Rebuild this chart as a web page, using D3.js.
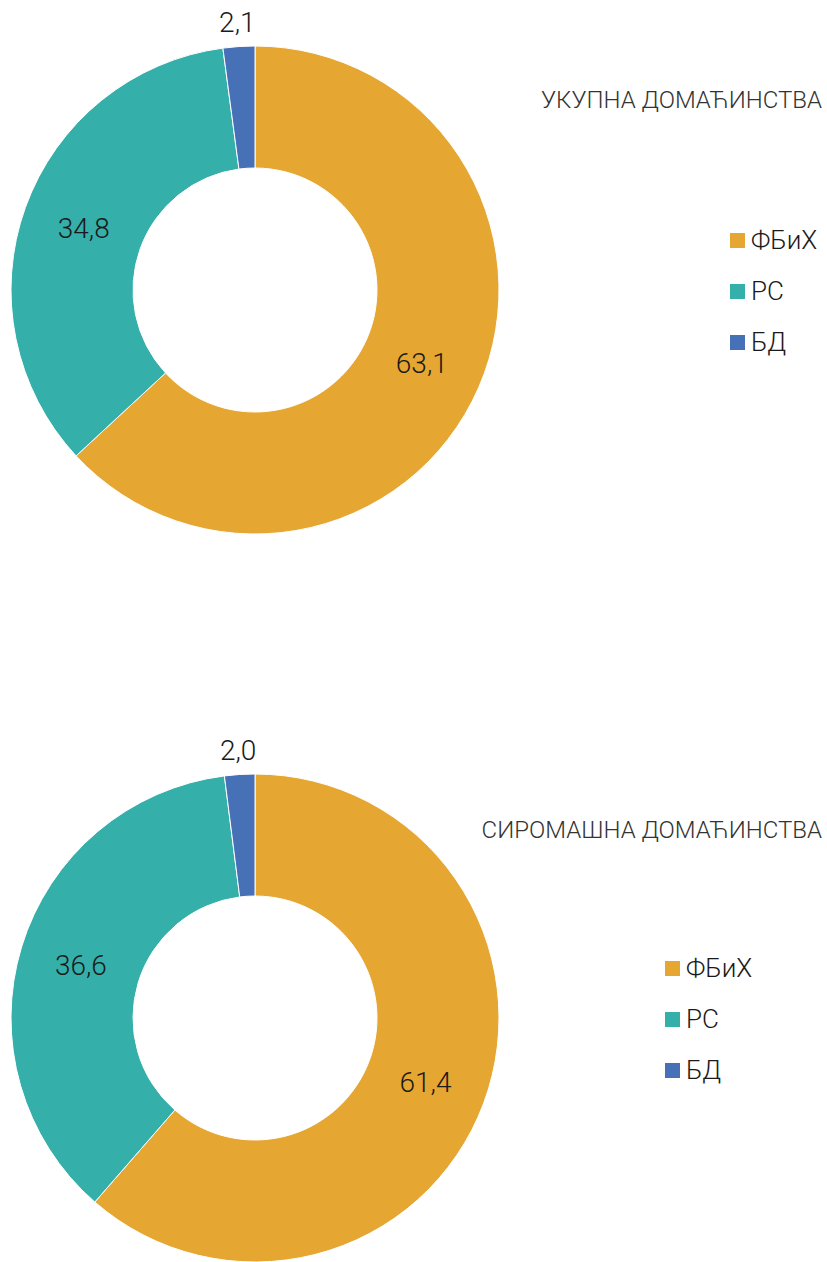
<!DOCTYPE html>
<html>
<head>
<meta charset="utf-8">
<script src="https://cdn.jsdelivr.net/npm/d3@7"></script>
<style>
  body { margin: 0; background: #fff; }
  text { font-family: Roboto, sans-serif; font-weight: 300; fill: #1a1a1a; }
</style>
</head>
<body>
<div id="chart"></div>
<script>
let width = 827, height = 1262;

// data
let categories = ["ФБиХ", "РС", "БД"];
let totalValues = [63.1, 34.8, 2.1];
let poorValues = [61.4, 36.6, 2.0];
let titles = ["УКУПНА ДОМАЋИНСТВА", "СИРОМАШНА ДОМАЋИНСТВА"];

let color = d3.scaleOrdinal()
  .domain(categories)
  .range(["#e6a632", "#35afaa", "#4671b6"]);

let svg = d3.select("#chart").append("svg")
  .attr("width", width)
  .attr("height", height);

let pie = d3.pie().sort(null).value(d => d.value);
let outerR = 244, innerR = 122;
let arc = d3.arc().innerRadius(innerR).outerRadius(outerR);
let labelArc = d3.arc().innerRadius(182).outerRadius(182);
let outsideArc = d3.arc().innerRadius(268).outerRadius(268);

let fmt = v => v.toFixed(1).replace(".", ",");

let panels = [
  { values: totalValues, title: titles[0], cy: 290, titleY: 108, legendX: 730, legendY: 240 },
  { values: poorValues, title: titles[1], cy: 1018, titleY: 838, legendX: 665, legendY: 968 }
];

panels.forEach(p => {
  let data = categories.map((c, i) => ({ name: c, value: p.values[i] }));
  let g = svg.append("g").attr("transform", `translate(255,${p.cy})`);

  g.selectAll("path")
    .data(pie(data))
    .enter()
    .append("path")
    .attr("d", arc)
    .attr("fill", d => color(d.data.name))
    .attr("stroke", "#fff")
    .attr("stroke-width", 1);

  g.selectAll("text.val")
    .data(pie(data))
    .enter()
    .append("text")
    .attr("class", "val")
    .attr("transform", d => {
      let c = d.data.value < 5 ? outsideArc.centroid(d) : labelArc.centroid(d);
      return `translate(${c})`;
    })
    .attr("text-anchor", "middle")
    .attr("dy", "0.35em")
    .style("font-size", "28px")
    .text(d => fmt(d.data.value));

  svg.append("text")
    .attr("x", 822)
    .attr("y", p.titleY)
    .attr("text-anchor", "end")
    .style("font-size", "24px")
    .style("fill", "#333")
    .text(p.title);

  let legend = svg.append("g")
    .attr("transform", `translate(${p.legendX},${p.legendY})`);

  let item = legend.selectAll("g")
    .data(categories)
    .enter()
    .append("g")
    .attr("transform", (d, i) => `translate(0,${i * 51})`);

  item.append("rect")
    .attr("x", 0)
    .attr("y", -7)
    .attr("width", 15)
    .attr("height", 15)
    .attr("fill", d => color(d));

  item.append("text")
    .attr("x", 21)
    .attr("dy", "0.35em")
    .style("font-size", "26px")
    .text(d => d);
});
</script>
</body>
</html>
